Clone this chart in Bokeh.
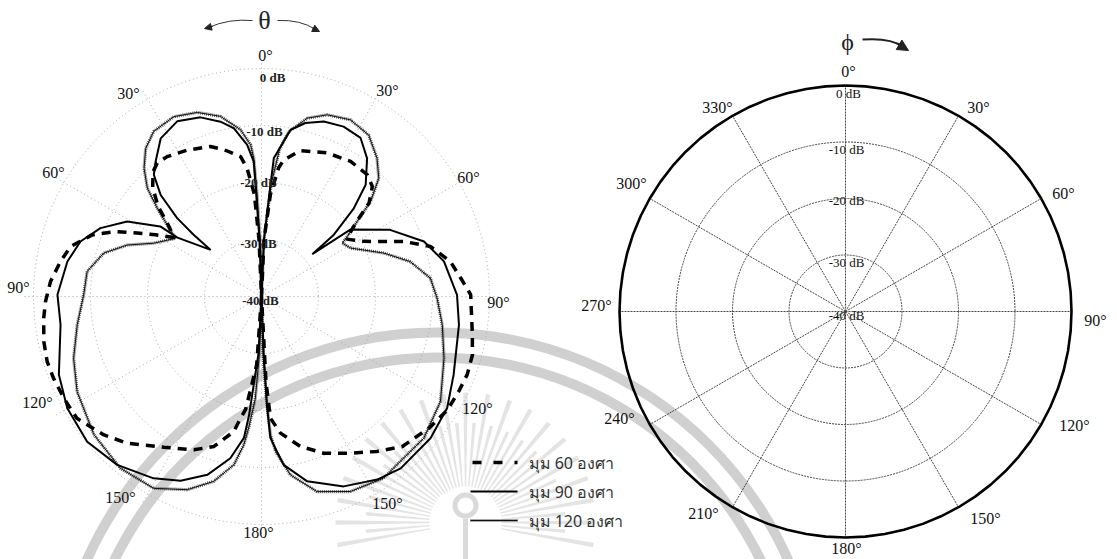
import numpy as np
from bokeh.plotting import figure
from bokeh.models import Range1d, Arrow, NormalHead
from bokeh.core.properties import value
from bokeh.embed import file_html
from bokeh.resources import INLINE

# ---------------------------------------------------------------
# Data: elevation (theta) cuts, gain in dB, theta clockwise from 0°
# ---------------------------------------------------------------
theta_60 = [-180, -176, -172, -170.2, -168.4, -162.4, -156.2, -147.1, -137.5, -131.3,
            -123.4, -117.2, -111.5, -106.9, -101.7, -95.7, -91.3, -85.9, -80.1, -75.3,
            -70, -66, -63, -59.8, -56, -52, -49, -45, -41, -38, -34, -26.9, -18.8,
            -14.4, -8.5, -6.4, -4, -2.5, 0,
            2.5, 5, 7.6, 9.3, 15, 24.6, 33.4, 41, 45.2, 49, 52, 56, 61.7, 68.9,
            73.5, 79.5, 84.7, 89.5, 100.3, 105.5, 110.8, 115.7, 121.4, 128, 136.8,
            143.3, 150.4, 158.3, 165.4, 172.1, 175.8, 177, 180]
gain_60 = [-40, -28, -20, -18.3, -15.8, -12.4, -10.6, -8.5, -5.1, -3.2,
           -1.2, -1.0, -0.8, -0.7, -1.0, -1.6, -2.1, -2.9, -4.2, -5.4,
           -8.4, -12, -15.5, -18.5, -21.5, -19, -16, -13, -11, -10.3, -10.4, -11.2, -12.2,
           -13.4, -15.2, -17.4, -22, -30, -40,
           -30, -22, -17.2, -15.7, -13.5, -12.3, -11.6, -11.7, -12.6, -15, -19, -22, -19.6, -13.2,
           -9.1, -6.3, -4.9, -3.3, -2.4, -1.6, -1.4, -1.6, -1.8, -2.6, -3.9,
           -6.1, -8.4, -10.4, -12.8, -15.8, -18.6, -25, -40]

theta_90 = [-180, -177, -174, -172.9, -169.1, -163.1, -156.3, -149.3, -139.4, -129.8,
            -119.9, -111.1, -98, -89.5, -79.8, -73.1, -67, -60.8, -55.3, -55.0,
            -47.5, -47.7, -47.1, -44.8, -41.5, -38.1, -32.5, -25.7, -18.8, -13.2,
            -9.3, -5.4, -3.3, -3.0, -2.0, 0,
            2.5, 4.6, 5.1, 9.9, 14.2, 19.6, 25.8, 32.0, 37.4, 43.0, 46.3, 49.5, 50.2,
            53.0, 62.6, 71.3, 79.1, 89.5, 98.2, 112.2, 121, 130, 141, 147.7, 156.6,
            166.1, 172.5, 176.4, 177.1, 177.8, 180]
gain_90 = [-40, -30, -19, -15, -11.1, -7.3, -4.7, -2.9, -1.1, -0.2,
           -0.7, -1.9, -4.4, -4.2, -5.4, -6.8, -9.3, -13, -18.4, -22,
           -27.9, -23.9, -19.8, -14.9, -11.5, -9.9, -7.1, -5.9, -6.8, -8.5,
           -10.1, -13.3, -16.3, -21, -30, -40,
           -30, -20.2, -15.6, -10.3, -8.6, -7.4, -6.9, -7.2, -9.5, -13.2, -17.6, -23.3, -28.4,
           -20.5, -14.6, -9.9, -7.4, -5.7, -5.0, -3.6, -2.0, -1.3, -1.2, -2.0, -3.7,
           -6.6, -10.2, -15.1, -20.4, -30, -40]

theta_120 = [-180, -178, -176.5, -174.5, -173.2, -170.7, -165.5, -159, -150.7, -140.6,
             -129.5, -117.3, -108.2, -98.7, -89.5, -81.8, -74.6, -69, -63.7, -55.9,
             -52.8, -49.7, -46.5, -42.5, -38, -33.1, -26, -19.2, -12.8, -7.2,
             -4.1, -3.2, -2.5, -1.5, 0,
             2.5, 5, 7, 9.4, 14.4, 19.9, 26.7, 33.6, 39.9, 44.8, 48.9, 51.9, 55, 56.6,
             61.5, 70.5, 76.8, 83.8, 90.5, 98.9, 108.7, 120.4, 131.1, 139.9, 146.1,
             155.5, 164.1, 170.8, 174.8, 176.3, 177.3, 178.5, 180]
gain_120 = [-40, -30, -22, -17, -13.8, -10.1, -6.5, -3.7, -1.4, -1.0,
            -1.9, -3.6, -5.3, -7.3, -8.8, -9.1, -11.3, -14.8, -18.9, -21.8,
            -19.2, -16, -12.4, -9.5, -7, -5.4, -4.9, -5.8, -7.6, -10.5,
            -13.3, -15.7, -22, -30, -40,
            -30, -20, -14, -10.7, -7.7, -6.1, -5.3, -6.0, -8.4, -10.8, -14.6, -18.7, -21.6, -23,
            -22.2, -17.2, -13.2, -10.2, -9.2, -7.9, -6.2, -3.6, -2.2, -2.2, -1.6,
            -2.4, -4.4, -8.3, -12.7, -15.7, -22, -30, -40]

# azimuth (phi) cut, every 5 degrees
phi_deg = [0, 5, 10, 15, 20, 25, 30, 35, 40, 45, 50, 55, 60, 65, 70, 75, 80, 85, 90,
           95, 100, 105, 110, 115, 120, 125, 130, 135, 140, 145, 150, 155, 160, 165, 170,
           175, 180, 185, 190, 195, 200, 205, 210, 215, 220, 225, 230, 235, 240, 245, 250,
           255, 260, 265, 270, 275, 280, 285, 290, 295, 300, 305, 310, 315, 320, 325, 330,
           335, 340, 345, 350, 355, 360]
gain_phi = [0.0, 0.0, 0.0, 0.0, 0.0, 0.0, 0.0, 0.0, 0.0, 0.0, 0.0, 0.0, 0.0, 0.0, 0.0,
            0.0, 0.0, 0.0, 0.0, 0.0, 0.0, 0.0, 0.0, 0.0, 0.0, 0.0, 0.0, 0.0, 0.0, 0.0,
            0.0, 0.0, 0.0, 0.0, 0.0, 0.0, 0.0, 0.0, 0.0, 0.0, 0.0, 0.0, 0.0, 0.0, 0.0,
            0.0, 0.0, 0.0, 0.0, 0.0, 0.0, 0.0, 0.0, 0.0, 0.0, 0.0, 0.0, 0.0, 0.0, 0.0,
            0.0, 0.0, 0.0, 0.0, 0.0, 0.0, 0.0, 0.0, 0.0, 0.0, 0.0, 0.0, 0.0]

db_rings = [-30, -20, -10, 0]
db_tick_text = ["0 dB", "-10 dB", "-20 dB", "-30 dB", "-40 dB"]
theta_tick_text = ["0°", "30°", "30°", "60°", "60°", "90°", "90°", "120°", "120°",
                   "150°", "150°", "180°"]
phi_tick_text = ["0°", "30°", "60°", "90°", "120°", "150°", "180°", "210°", "240°",
                 "270°", "300°", "330°"]
spoke_angles = [0, 30, 60, 90, 120, 150, 180, 210, 240, 270, 300, 330]
legend_text = ["มุม 60 องศา", "มุม 90 องศา", "มุม 120 องศา"]

# ---------------------------------------------------------------
# Layout (screen positions measured from the top-left corner)
# ---------------------------------------------------------------
W, H = 1117, 559
FLOOR = -40.0
L_C, L_S = (261.0, 296.0), 5.7      # left chart centre, px per dB
R_C, R_S = (845.0, 311.0), 5.65     # right chart centre, px per dB

SERIF = value("Liberation Serif")


def polar(c, s, ang, db):
    a = np.radians(np.asarray(ang, dtype=float))
    r = (np.clip(np.asarray(db, dtype=float), FLOOR, 0.0) - FLOOR) * s
    return c[0] + r * np.sin(a), (H - c[1]) + r * np.cos(a)


def sy(y):
    return H - y


p = figure(width=W, height=H, x_range=Range1d(0, W), y_range=Range1d(0, H),
           output_backend="svg", toolbar_location=None, min_border=0,
           x_axis_location=None, y_axis_location=None,
           background_fill_color="white", border_fill_color="white")
p.outline_line_color = None
p.xgrid.visible = False
p.ygrid.visible = False

# ---- faint seal in the paper background ----
WM = "#d0d0d0"
ray_deg = np.arange(-10, 192, 5.0)
ray_len = np.where(np.arange(len(ray_deg)) % 2 == 0, 130, 100)
p.annular_wedge(x=465, y=sy(522), inner_radius=36, outer_radius=ray_len,
                start_angle=np.radians(ray_deg - 1.0), end_angle=np.radians(ray_deg + 1.0),
                fill_color="#e4e4e4", line_color=None)
p.annulus(x=437, y=sy(716), inner_radius=379, outer_radius=389,
          fill_color=WM, line_color=None)
p.annulus(x=437, y=sy(716), inner_radius=354, outer_radius=364,
          fill_color=WM, line_color=None)
p.annulus(x=465, y=sy(505), inner_radius=8, outer_radius=13, fill_color="#dadada", line_color=None)
p.line([465, 465], [sy(518), 0], line_color="#dadada", line_width=5)

# ---- left chart grid ----
LG = "#a8a8a8"
for d in db_rings:
    p.circle(x=L_C[0], y=sy(L_C[1]), radius=(d - FLOOR) * L_S, fill_color=None,
             line_color=LG, line_dash="1 3", line_width=1)
a = np.radians(spoke_angles)
p.segment(x0=L_C[0], y0=sy(L_C[1]), x1=L_C[0] + 238 * np.sin(a), y1=sy(L_C[1]) + 238 * np.cos(a),
          line_color=LG, line_dash="1 3", line_width=1)

# ---- right chart grid ----
RG = "#454545"
for d in db_rings[:-1]:
    p.circle(x=R_C[0], y=sy(R_C[1]), radius=(d - FLOOR) * R_S, fill_color=None,
             line_color=RG, line_dash="2 1", line_width=1)
rr = -FLOOR * R_S
p.segment(x0=R_C[0], y0=sy(R_C[1]), x1=R_C[0] + rr * np.sin(a), y1=sy(R_C[1]) + rr * np.cos(a),
          line_color=RG, line_dash="2 1", line_width=1)

# ---- patterns ----
x, y = polar(L_C, L_S, theta_120, gain_120)
p.line(x, y, line_color="#555555", line_width=3.2, line_dash="1 1")
p.line(x, y, line_color="#111111", line_width=1)
x, y = polar(L_C, L_S, theta_90, gain_90)
p.line(x, y, line_color="black", line_width=2)
x, y = polar(L_C, L_S, theta_60, gain_60)
p.line(x, y, line_color="black", line_width=3.5, line_dash="9 7")
x, y = polar(R_C, R_S, phi_deg, gain_phi)
p.line(x, y, line_color="black", line_width=2.6)

# ---- labels ----
l_ang_pos = [(265, 55), (128, 93), (387, 90), (53, 172), (468, 177), (18, 287), (498, 302),
             (37, 402), (477, 408), (120, 497), (387, 503), (258, 532)]
p.text(x=[q[0] for q in l_ang_pos], y=[sy(q[1]) for q in l_ang_pos], text=theta_tick_text,
       text_font=SERIF, text_font_size="16px", text_align="center", text_baseline="middle",
       text_color="#111111")
l_db_pos = [(272, 77), (264, 131), (258, 182), (258, 243), (260, 300)]
p.text(x=[q[0] for q in l_db_pos], y=[sy(q[1]) for q in l_db_pos], text=db_tick_text,
       text_font=SERIF, text_font_size="13px", text_font_style="bold", text_align="center",
       text_baseline="middle", text_color="#222222")

r_ang_pos = [(848, 71), (978, 107), (1063, 193), (1095, 320), (1074, 425), (985, 518),
             (846, 548), (703, 513), (619, 418), (596, 305), (631, 183), (717, 107)]
p.text(x=[q[0] for q in r_ang_pos], y=[sy(q[1]) for q in r_ang_pos], text=phi_tick_text,
       text_font=SERIF, text_font_size="16px", text_align="center", text_baseline="middle",
       text_color="#111111")
r_db_pos = [(848, 93), (846, 149), (846, 200), (846, 262), (846, 315)]
p.text(x=[q[0] for q in r_db_pos], y=[sy(q[1]) for q in r_db_pos], text=db_tick_text,
       text_font=SERIF, text_font_size="13px", text_align="center", text_baseline="middle",
       text_color="#111111")

# ---- angle direction markers ----
p.text(x=[264], y=[sy(20)], text=["θ"], text_font=SERIF, text_font_size="26px",
       text_align="center", text_baseline="middle", text_color="#222222")
p.quadratic(x0=[252, 277], y0=[sy(20), sy(20)], cx=[228, 300], cy=[sy(18), sy(19)],
            x1=[208, 315], y1=[sy(27), sy(29)], line_color="#333333", line_width=1)
p.add_layout(Arrow(end=NormalHead(size=7, fill_color="#222222", line_color="#222222"),
                   x_start=212, y_start=sy(26), x_end=204, y_end=sy(28), line_width=1))
p.add_layout(Arrow(end=NormalHead(size=7, fill_color="#222222", line_color="#222222"),
                   x_start=312, y_start=sy(27.5), x_end=319, y_end=sy(31), line_width=1))

p.text(x=[847], y=[sy(41)], text=["ϕ"], text_font=SERIF, text_font_size="24px",
       text_align="center", text_baseline="middle", text_color="#222222")
p.quadratic(x0=[862], y0=[sy(39)], cx=[890], cy=[sy(37)], x1=[902], y1=[sy(46)],
            line_color="#222222", line_width=2)
p.add_layout(Arrow(end=NormalHead(size=11, fill_color="#222222", line_color="#222222"),
                   x_start=898, y_start=sy(44), x_end=908, y_end=sy(50), line_width=2))

# ---- legend ----
ly = [462, 491, 520]
p.line([472, 517], [sy(ly[0])] * 2, line_color="black", line_width=3.5, line_dash="9 12")
p.line([470, 517], [sy(ly[1])] * 2, line_color="black", line_width=2)
p.line([470, 517], [sy(ly[2])] * 2, line_color="#555555", line_width=3.2, line_dash="1 1")
p.line([470, 517], [sy(ly[2])] * 2, line_color="#111111", line_width=1)
p.text(x=[528] * 3, y=[sy(v) for v in ly], text=legend_text, text_font=value("Noto Sans"),
       text_font_size="16px", text_align="left", text_baseline="middle", text_color="#333333")

open("out.html", "w").write(file_html(p, INLINE))
